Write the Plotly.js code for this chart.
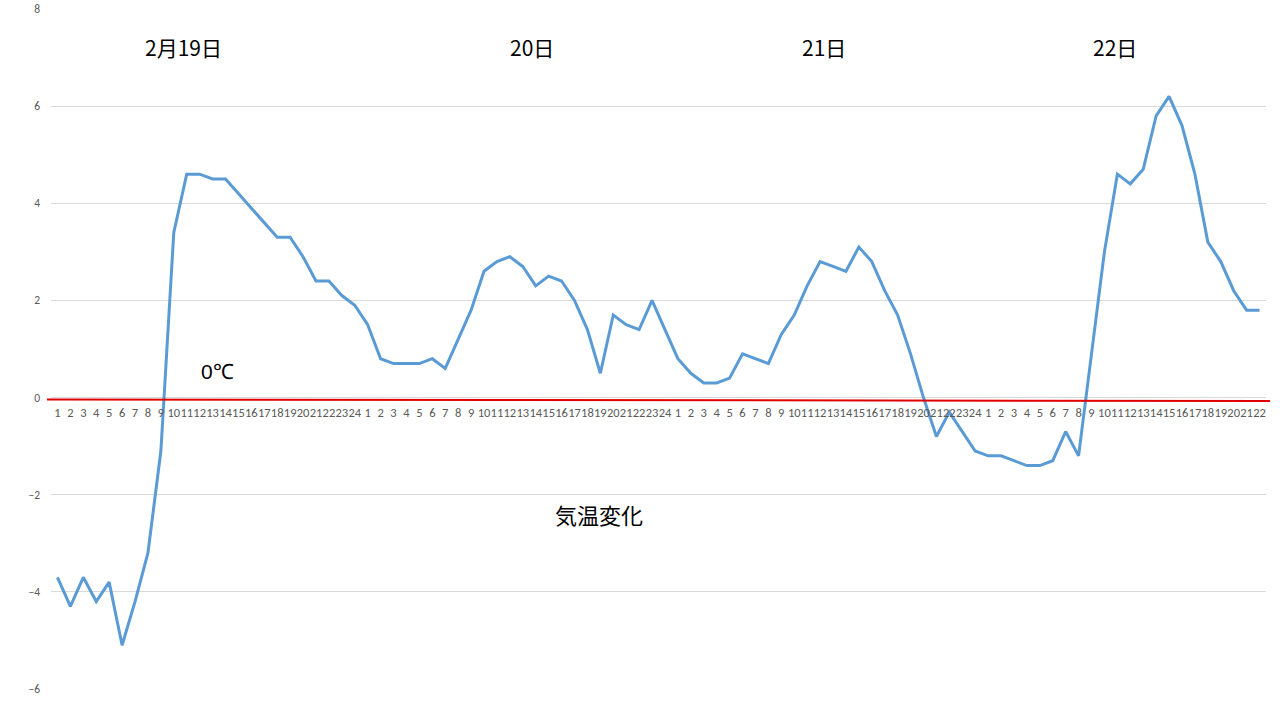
<!DOCTYPE html>
<html>
<head>
<meta charset="utf-8">
<script src="https://cdn.plot.ly/plotly-3.0.1.min.js"></script>
<style>
  html, body { margin: 0; padding: 0; background: #fff; }
  #chart { width: 1280px; height: 720px; }
</style>
</head>
<body>
<div id="chart"></div>
<script>
// hourly temperatures, 2/19 - 2/22
var day19 = [-3.7, -4.3, -3.7, -4.2, -3.8, -5.1, -4.2, -3.2, -1.1, 3.4, 4.6, 4.6, 4.5, 4.5, 4.2, 3.9, 3.6, 3.3, 3.3, 2.9, 2.4, 2.4, 2.1, 1.9]
var day20 = [1.5, 0.8, 0.7, 0.7, 0.7, 0.8, 0.6, 1.2, 1.8, 2.6, 2.8, 2.9, 2.7, 2.3, 2.5, 2.4, 2.0, 1.4, 0.5, 1.7, 1.5, 1.4, 2.0, 1.4]
var day21 = [0.8, 0.5, 0.3, 0.3, 0.4, 0.9, 0.8, 0.7, 1.3, 1.7, 2.3, 2.8, 2.7, 2.6, 3.1, 2.8, 2.2, 1.7, 0.9, 0.0, -0.8, -0.3, -0.7, -1.1]
var day22 = [-1.2, -1.2, -1.3, -1.4, -1.4, -1.3, -0.7, -1.2, 0.9, 3.0, 4.6, 4.4, 4.7, 5.8, 6.2, 5.6, 4.6, 3.2, 2.8, 2.2, 1.8, 1.8]

var dayLabels = ["2月19日", "20日", "21日", "22日"]
var yTicks = [-6, -4, -2, 0, 2, 4, 6, 8]

var days = [day19, day20, day21, day22]
var temps = []
var hourText = []
days.forEach(function(d) {
    d.forEach(function(v, i) {
        temps.push(v)
        hourText.push(String(i + 1))
    })
})
var xs = temps.map(function(v, i) { return i })

var trace = {
    x: xs,
    y: temps,
    type: 'scatter',
    mode: 'lines',
    line: {color: '#5b9bd5', width: 3},
    hoverinfo: 'y'
}

// pixel -> paper helpers (plot area 51..1266 x 9..689)
function px(x) { return (x - 51) / 1215 }
function py(y) { return (689 - y) / 680 }

var dayX = [183, 532, 824, 1115]
var annotations = dayLabels.map(function(t, i) {
    return {
        text: t, xref: 'paper', yref: 'paper', x: px(dayX[i]), y: py(47),
        showarrow: false, xanchor: 'center', yanchor: 'middle',
        font: {family: 'Noto Sans CJK JP', size: 21, color: '#000'}
    }
})
annotations.push({
    text: '0℃', xref: 'paper', yref: 'paper', x: px(217), y: py(371),
    showarrow: false, xanchor: 'center', yanchor: 'middle',
    font: {family: 'Liberation Sans, Arial', size: 21, color: '#000'}
})
annotations.push({
    text: '気温変化', xref: 'paper', yref: 'paper', x: px(599), y: py(514),
    showarrow: false, xanchor: 'center', yanchor: 'middle',
    font: {family: 'Noto Sans CJK JP', size: 22, color: '#000'}
})

var layout = {
    width: 1280,
    height: 720,
    margin: {l: 51, r: 14, t: 9, b: 31, pad: 0},
    paper_bgcolor: '#fff',
    plot_bgcolor: '#fff',
    showlegend: false,
    xaxis: {
        range: [-0.5, temps.length - 0.5],
        tickvals: xs,
        ticktext: hourText,
        tickangle: 0,
        showgrid: false,
        zeroline: false,
        showline: false,
        ticks: '',
        anchor: 'free',
        position: 6 / 14,
        ticklabelstandoff: 6,
        tickfont: {family: 'Calibri, Carlito, Liberation Sans', size: 12.5, color: '#595959'}
    },
    yaxis: {
        range: [-6, 8],
        tickvals: yTicks,
        showgrid: true,
        gridcolor: '#d9d9d9',
        gridwidth: 1,
        zeroline: true,
        zerolinecolor: '#d9d9d9',
        zerolinewidth: 1,
        showline: false,
        ticks: '',
        ticklabelstandoff: 10,
        tickfont: {family: 'Calibri, Carlito, Liberation Sans', size: 11.5, color: '#595959'}
    },
    shapes: [{
        type: 'line', xref: 'paper', yref: 'y',
        x0: px(47), x1: px(1270), y0: -0.04, y1: -0.07,
        line: {color: '#e00000', width: 2}
    }],
    annotations: annotations
}

Plotly.newPlot('chart', [trace], layout, {displayModeBar: false, staticPlot: true})
</script>
</body>
</html>
